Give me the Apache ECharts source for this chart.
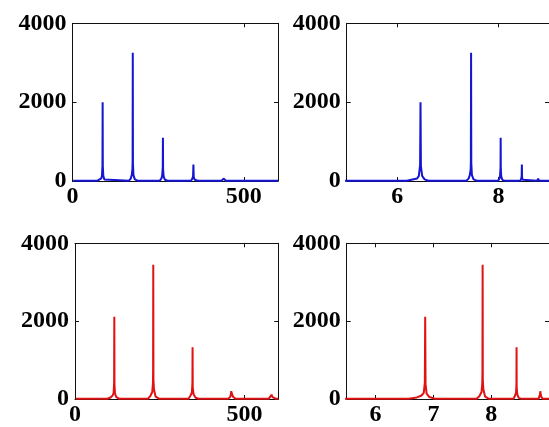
<!DOCTYPE html>
<html>
<head>
<meta charset="utf-8">
<script src="https://cdn.jsdelivr.net/npm/echarts@6/dist/echarts.min.js"></script>
<style>
  html, body { margin: 0; padding: 0; background: #fff; }
  #chart { width: 549px; height: 427px; }
</style>
</head>
<body>
<div id="chart"></div>
<script>
// Spectrum of the first signal (Hz, amplitude)
const blueFreq = [2, 20, 60, 73, 74, 84, 86, 87.5, 88, 88.5, 90, 93, 98,
  165, 170, 173, 175, 175.5, 176, 176.5, 178, 182, 190,
  255, 260, 262, 263.5, 264, 264.5, 266, 270, 278,
  346, 350, 352, 353, 354, 357, 366,
  435, 439, 441, 443, 448, 600];
const blueAmp = [8, 8, 8, 8, 55, 65, 130, 400, 2000, 380, 130, 40, 8,
  8, 60, 150, 300, 500, 3250, 450, 150, 40, 8,
  8, 70, 150, 350, 1100, 300, 120, 30, 8,
  8, 60, 120, 420, 100, 30, 8,
  8, 40, 60, 40, 8, 8];

// Spectrum of the second signal (Hz, amplitude)
const redFreq = [2, 20, 95, 105, 111, 114, 115.5, 116, 116.5, 118, 122, 130,
  215, 222, 228, 230, 230.5, 231, 231.5, 233, 238, 248,
  335, 341, 345, 346.5, 347, 347.5, 350, 356, 365,
  452, 458, 460, 461, 462, 463, 466, 474,
  572, 577, 580, 583, 592, 600];
const redAmp = [8, 8, 8, 40, 90, 160, 420, 2110, 380, 140, 50, 8,
  8, 70, 180, 400, 700, 3450, 500, 250, 60, 8,
  8, 90, 170, 400, 1330, 300, 120, 30, 8,
  8, 50, 120, 200, 210, 190, 60, 8,
  8, 50, 110, 50, 8, 8];

const yTicks = [0, 2000, 4000];
const linTicks = [0, 500];
const logTicksTop = [6, 8];
const logTicksBottom = [6, 7, 8];

const BLUE = '#1515d2';
const RED = '#e01212';

const pairs = (fs, as) => fs.map((f, i) => [f, as[i]]);
const logPairs = (fs, as) => fs.map((f, i) => [Math.log2(f), as[i]]);

const grids = [
  { left: 72.5, top: 23.3, width: 205.5, height: 157.7 },
  { left: 346.7, top: 23.3, width: 205.5, height: 157.7 },
  { left: 75, top: 243.3, width: 203.3, height: 157.7 },
  { left: 346.7, top: 243.3, width: 205.5, height: 157.7 }
];

const labelFont = {
  fontFamily: 'Liberation Serif',
  fontWeight: 'bold',
  fontSize: 24,
  color: '#000'
};
const lineStyle = { color: '#111', width: 1 };
const plain = v => String(v);

const xAxes = [];
const yAxes = [];
const xSpec = [
  { min: 0, max: 600, ticks: linTicks },
  { min: 5, max: 9, ticks: logTicksTop },
  { min: 0, max: 600, ticks: linTicks },
  { min: 5.5, max: 9, ticks: logTicksBottom }
];

grids.forEach((g, i) => {
  const s = xSpec[i];
  // bottom axis with labels
  xAxes.push({
    type: 'value', gridIndex: i, position: 'bottom', min: s.min, max: s.max,
    axisLine: { show: true, onZero: false, lineStyle },
    axisTick: { show: true, inside: true, length: 4, customValues: s.ticks, lineStyle },
    axisLabel: Object.assign({ show: true, margin: 4, customValues: s.ticks, formatter: plain }, labelFont),
    splitLine: { show: false }
  });
  // top edge of the box, ticks only
  xAxes.push({
    type: 'value', gridIndex: i, position: 'top', min: s.min, max: s.max,
    axisLine: { show: true, onZero: false, lineStyle },
    axisTick: { show: true, inside: true, length: 4, customValues: s.ticks, lineStyle },
    axisLabel: { show: false },
    splitLine: { show: false }
  });
  // left axis with labels
  yAxes.push({
    type: 'value', gridIndex: i, position: 'left', min: 0, max: 4000,
    axisLine: { show: true, onZero: false, lineStyle },
    axisTick: { show: true, inside: true, length: 4, customValues: yTicks, lineStyle },
    axisLabel: Object.assign({ show: true, margin: 6, customValues: yTicks, formatter: plain }, labelFont),
    splitLine: { show: false }
  });
  // right edge of the box, ticks only
  yAxes.push({
    type: 'value', gridIndex: i, position: 'right', min: 0, max: 4000,
    axisLine: { show: true, onZero: false, lineStyle },
    axisTick: { show: true, inside: true, length: 4, customValues: yTicks, lineStyle },
    axisLabel: { show: false },
    splitLine: { show: false }
  });
});

const mkSeries = (data, grid, color) => ({
  type: 'line',
  xAxisIndex: grid * 2,
  yAxisIndex: grid * 2,
  data,
  showSymbol: false,
  clip: true,
  lineStyle: { color, width: 2 },
  z: 1
});

const chart = echarts.init(document.getElementById('chart'), null, { renderer: 'canvas' });
chart.setOption({
  animation: false,
  backgroundColor: '#fff',
  grid: grids,
  xAxis: xAxes,
  yAxis: yAxes,
  series: [
    mkSeries(pairs(blueFreq, blueAmp), 0, BLUE),
    mkSeries(logPairs(blueFreq, blueAmp), 1, BLUE),
    mkSeries(pairs(redFreq, redAmp), 2, RED),
    mkSeries(logPairs(redFreq, redAmp), 3, RED)
  ]
});
</script>
</body>
</html>
